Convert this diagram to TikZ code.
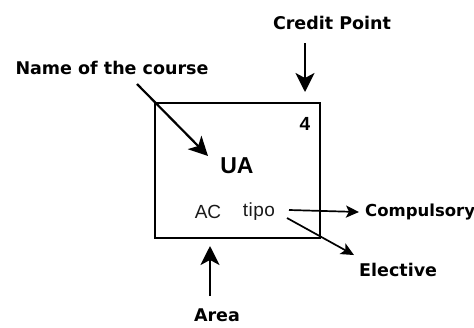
\documentclass[tikz,border=0pt]{standalone}
\usepackage{fontspec}
\setmainfont{DejaVu Sans}
\newfontfamily\cardfont{Liberation Sans}
\usetikzlibrary{arrows.meta}

\begin{document}
\begin{tikzpicture}[
    x=1pt, y=-1pt,
    label/.style={font=\fontsize{17.5}{20}\selectfont\bfseries, inner sep=0pt},
    cardtext/.style={font=\cardfont\fontsize{19}{22}\selectfont, inner sep=0pt},
    bigarrow/.style={
        line width=2.2pt,
        -{Stealth[length=19pt, width=19pt, inset=5pt]},
    },
    smallarrow/.style={
        line width=1.7pt,
        -{Stealth[length=13pt, width=12pt, inset=3pt]},
    },
]
\useasboundingbox (0,0) rectangle (474,327);

% =============================================
% CARD – the course box
% =============================================
\node[draw, line width=2.4pt, minimum width=165pt, minimum height=135pt, inner sep=0pt]
    (card) at (237.5,170.5) {};

\node[cardtext, font=\cardfont\fontsize{19}{22}\selectfont\bfseries] (credit) at (305,124) {4};
\node[cardtext, font=\cardfont\fontsize{23}{26}\selectfont\bfseries] (ua) at (237,166) {UA};
\node[cardtext, text=black!90] (ac) at (208,212) {AC};
\node[cardtext, text=black!90] (tipo) at (259,212) {t\kern0.5pt i\kern0.5pt p\kern0.5pt o};

% =============================================
% LABELS round the card
% =============================================
\node[label] (creditlbl) at (332,23) {Credit Point};
\node[label] (namelbl) at (112,68) {Name of the course};
\node[label, font=\fontsize{16.5}{19}\selectfont\bfseries, anchor=west] (compulsory) at (365,212) {Compulsory};
\node[label, anchor=west] (elective) at (359,270) {Elective};
\node[label] (area) at (217,315) {Area};

% free ends of the pointers
\coordinate (credittop) at (305,43);
\coordinate (credittip) at (305,92);
\coordinate (namestart) at (137,84);
\coordinate (nametip) at (208,156);
\coordinate (areastart) at (210,296);
\coordinate (areatip) at (210,246);
\coordinate (tiporight) at (289,210);
\coordinate (tipolow) at (287,218);

% =============================================
% POINTERS
% =============================================
\draw[bigarrow] (credittop) -- (credittip);
\draw[bigarrow] (namestart) -- (nametip);
\draw[bigarrow] (areastart) -- (areatip);
\draw[smallarrow] (tiporight) -- ([xshift=-6pt]compulsory.west);
\draw[smallarrow] (tipolow) -- ([xshift=-5pt, yshift=8pt]elective.north west);

\end{tikzpicture}
\end{document}
